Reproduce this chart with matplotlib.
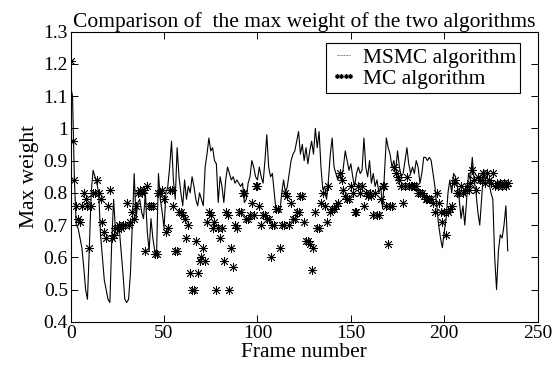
import matplotlib
matplotlib.use("Agg")
import matplotlib.pyplot as plt
from matplotlib.lines import Line2D
import numpy as np

plt.rcParams['font.family'] = ['Liberation Serif', 'DejaVu Serif']

# max weight per frame
msmc = [
    1.13, 1.10, 0.84, 0.70, 0.69, 0.66, 0.63, 0.57, 0.50, 0.47,
    0.63, 0.80, 0.87, 0.85, 0.83, 0.80, 0.67, 0.60, 0.53, 0.50,
    0.47, 0.46, 0.65, 0.78, 0.68, 0.67, 0.69, 0.62, 0.55, 0.47,
    0.46, 0.47, 0.55, 0.70, 0.86, 0.72, 0.77, 0.78, 0.74, 0.72,
    0.80, 0.68, 0.62, 0.72, 0.66, 0.62, 0.61, 0.86, 0.78, 0.74,
    0.69, 0.80, 0.82, 0.88, 0.96, 0.84, 0.78, 0.94, 0.85, 0.80,
    0.76, 0.84, 0.78, 0.82, 0.80, 0.85, 0.82, 0.78, 0.76, 0.80,
    0.78, 0.76, 0.88, 0.92, 0.97, 0.93, 0.94, 0.90, 0.89, 0.77,
    0.85, 0.82, 0.77, 0.84, 0.88, 0.86, 0.84, 0.85, 0.83, 0.84,
    0.83, 0.82, 0.83, 0.77, 0.78, 0.83, 0.85, 0.90, 0.88, 0.85,
    0.84, 0.88, 0.85, 0.83, 0.90, 0.98, 0.88, 0.85, 0.86, 0.80,
    0.74, 0.75, 0.74, 0.80, 0.84, 0.80, 0.82, 0.86, 0.90, 0.92,
    0.93, 0.96, 0.99, 0.92, 0.95, 0.90, 0.94, 0.89, 0.93, 0.96,
    0.92, 1.00, 0.94, 0.99, 0.88, 0.81, 0.82, 0.78, 0.84, 0.92,
    0.97, 0.88, 0.86, 0.84, 0.86, 0.84, 0.88, 0.93, 0.90, 0.87,
    0.89, 0.85, 0.82, 0.86, 0.88, 0.86, 0.87, 0.97, 0.88, 0.85,
    0.90, 0.83, 0.86, 0.82, 0.84, 0.80, 0.82, 0.75, 0.86, 0.97,
    0.94, 0.92, 0.88, 0.90, 0.87, 0.93, 0.88, 0.85, 0.86, 0.90,
    0.94, 0.89, 0.86, 0.88, 0.86, 0.90, 0.88, 0.83, 0.86, 0.91,
    0.91, 0.90, 0.91, 0.90, 0.86, 0.82, 0.76, 0.70, 0.66, 0.63,
    0.68, 0.72, 0.80, 0.84, 0.80, 0.86, 0.85, 0.82, 0.78, 0.72,
    0.76, 0.70, 0.78, 0.86, 0.84, 0.91, 0.84, 0.80, 0.74, 0.70,
    0.78, 0.87, 0.84, 0.85, 0.83, 0.80, 0.78, 0.60, 0.50, 0.62,
    0.67, 0.66, 0.70, 0.76, 0.62,
]

mc = [
    1.21, 0.96, 0.84, 0.76, 0.72, 0.71, 0.76, 0.80, 0.78, 0.76,
    0.63, 0.76, 0.80, 0.80, 0.84, 0.80, 0.78, 0.71, 0.68, 0.66,
    0.76, 0.81, 0.66, 0.67, 0.69, 0.69, 0.70, 0.69, 0.70, 0.70,
    0.77, 0.70, 0.71, 0.74, 0.72, 0.76, 0.80, 0.81, 0.80, 0.81,
    0.62, 0.82, 0.76, 0.76, 0.76, 0.61, 0.61, 0.80, 0.80, 0.81,
    0.78, 0.68, 0.69, 0.81, 0.81, 0.76, 0.62, 0.62, 0.74, 0.74,
    0.73, 0.72, 0.66, 0.70, 0.55, 0.50, 0.50, 0.65, 0.55, 0.59,
    0.60, 0.63, 0.59, 0.71, 0.74, 0.73, 0.69, 0.71, 0.50, 0.69,
    0.66, 0.69, 0.59, 0.74, 0.73, 0.50, 0.63, 0.57, 0.70, 0.69,
    0.74, 0.74, 0.80, 0.80, 0.72, 0.72, 0.73, 0.77, 0.73, 0.82,
    0.82, 0.76, 0.70, 0.73, 0.73, 0.72, 0.72, 0.60, 0.70, 0.70,
    0.75, 0.75, 0.63, 0.70, 0.70, 0.80, 0.79, 0.70, 0.77, 0.72,
    0.72, 0.74, 0.74, 0.79, 0.79, 0.71, 0.65, 0.65, 0.64, 0.56,
    0.63, 0.74, 0.69, 0.69, 0.77, 0.80, 0.76, 0.71, 0.82, 0.74,
    0.75, 0.75, 0.76, 0.77, 0.86, 0.84, 0.81, 0.79, 0.78, 0.78,
    0.82, 0.80, 0.74, 0.74, 0.82, 0.80, 0.82, 0.76, 0.80, 0.79,
    0.80, 0.79, 0.73, 0.80, 0.73, 0.73, 0.78, 0.82, 0.82, 0.76,
    0.64, 0.76, 0.76, 0.88, 0.86, 0.85, 0.84, 0.82, 0.77, 0.82,
    0.85, 0.82, 0.82, 0.82, 0.82, 0.82, 0.80, 0.80, 0.80, 0.79,
    0.78, 0.78, 0.78, 0.78, 0.77, 0.74, 0.80, 0.77, 0.74, 0.71,
    0.74, 0.67, 0.74, 0.75, 0.76, 0.83, 0.84, 0.80, 0.80, 0.82,
    0.80, 0.81, 0.82, 0.81, 0.83, 0.87, 0.84, 0.81, 0.85, 0.84,
    0.84, 0.86, 0.83, 0.86, 0.84, 0.83, 0.86, 0.82, 0.83, 0.82,
    0.83, 0.82, 0.83, 0.82, 0.83,
]

frames = np.arange(len(msmc))

fig = plt.figure(figsize=(5.52, 3.76), dpi=100)
ax = fig.add_axes([0.128, 0.144, 0.846, 0.772])

ax.plot(frames, msmc, color='k', lw=0.8, label='MSMC algorithm')
ax.plot(frames, mc, ls='none', marker=(8, 2, 0), ms=6.5, mec='k', mew=0.6,
        color='k', label='MC algorithm')

ax.set_xlim(0, 250)
ax.set_ylim(0.4, 1.3)
ax.set_xticks([0, 50, 100, 150, 200, 250])
yt = [0.4, 0.5, 0.6, 0.7, 0.8, 0.9, 1.0, 1.1, 1.2, 1.3]
ax.set_yticks(yt)
ax.set_yticklabels(['0.4', '0.5', '0.6', '0.7', '0.8', '0.9', '1', '1.1', '1.2', '1.3'])
ax.tick_params(direction='in', top=True, right=True, length=5, width=0.7,
               labelsize=14, pad=2)
for s in ax.spines.values():
    s.set_linewidth(0.8)

ax.set_xlabel('Frame number', fontsize=15.5, labelpad=1)
ax.set_ylabel('Max weight', fontsize=15.5, labelpad=3)
ax.set_title('Comparison of  the max weight of the two algorithms', fontsize=15.5, pad=3)

# legend samples drawn like the matlab legend
h1 = Line2D([], [], color='0.5', lw=0.7, ls=(0, (2, 1)))
h2 = Line2D([], [], ls='none', marker=(8, 2, 0), ms=3.5, mec='k', mew=0.6, color='k')
leg = ax.legend([h1, h2], ['MSMC algorithm', 'MC algorithm'], loc='upper right',
                bbox_to_anchor=(0.963, 0.96), borderaxespad=0, fontsize=15.5,
                fancybox=False, edgecolor='k', framealpha=1, numpoints=4,
                handlelength=1.2, handletextpad=0.3, borderpad=0.2, labelspacing=0.05)
leg.get_frame().set_linewidth(0.8)

fig.savefig('out.png', dpi=100)
